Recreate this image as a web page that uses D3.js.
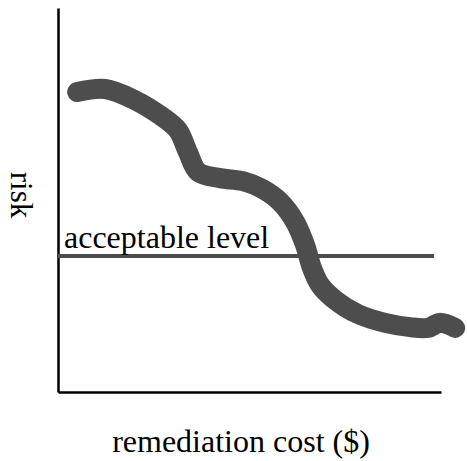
<!DOCTYPE html>
<html>
<head>
<meta charset="utf-8">
<script src="https://cdn.jsdelivr.net/npm/d3@7"></script>
<style>
  html, body { margin: 0; padding: 0; background: #ffffff; }
  svg { display: block; }
</style>
</head>
<body>
<svg id="chart" width="467" height="461"></svg>
<script>
// Data (cost in arbitrary units 0-10, risk in arbitrary units 0-10)
const costValues = [0.50, 1.23, 2.01, 2.66, 3.13, 3.39, 3.66, 4.23, 4.83, 5.33, 5.80, 6.19, 6.45, 6.63, 6.84, 7.23, 7.83, 8.54, 9.19, 9.66, 9.97, 10.37];
const riskValues = [7.81, 7.89, 7.60, 7.21, 6.82, 6.25, 5.73, 5.57, 5.49, 5.29, 4.95, 4.43, 3.83, 3.23, 2.79, 2.40, 2.03, 1.80, 1.69, 1.67, 1.80, 1.67];
const acceptableLevel = [3.54];
const acceptableRange = [0, 9.82];
const labels = ["acceptable level", "remediation cost ($)", "risk"];

const FONT = "'Liberation Serif', 'Times New Roman', Times, 'DejaVu Serif', serif";

const svg = d3.select("#chart");
const margin = { left: 58, right: 26, top: 8, bottom: 69 };
const W = 467, H = 461;

const x = d3.scaleLinear().domain([0, 10]).range([margin.left, W - margin.right]);
const y = d3.scaleLinear().domain([0, 10]).range([H - margin.bottom, margin.top]);

// Axes (plain lines, no ticks)
svg.append("g")
  .attr("transform", `translate(0,${y(0)})`)
  .call(d3.axisBottom(x).ticks(0).tickSizeOuter(0))
  .call(g => g.select(".domain").attr("stroke", "#000").attr("stroke-width", 2.5));
svg.append("g")
  .attr("transform", `translate(${x(0)},0)`)
  .call(d3.axisLeft(y).ticks(0).tickSizeOuter(0))
  .call(g => g.select(".domain").attr("stroke", "#000").attr("stroke-width", 2.5));

// Acceptable level line
svg.append("line")
  .attr("x1", x(acceptableRange[0])).attr("x2", x(acceptableRange[1]))
  .attr("y1", y(acceptableLevel[0])).attr("y2", y(acceptableLevel[0]))
  .attr("stroke", "#4d4d4d").attr("stroke-width", 4);

svg.append("text")
  .attr("x", 64).attr("y", 248)
  .attr("font-family", FONT)
  .attr("font-size", 32)
  .attr("fill", "#000")
  .text(labels[0]);

// Risk curve
const pts = costValues.map((c, i) => [c, riskValues[i]]);
const line = d3.line().x(d => x(d[0])).y(d => y(d[1])).curve(d3.curveCatmullRom.alpha(0.5));
svg.append("path")
  .attr("d", line(pts))
  .attr("fill", "none")
  .attr("stroke", "#4d4d4d")
  .attr("stroke-width", 20)
  .attr("stroke-linecap", "round")
  .attr("stroke-linejoin", "round");

// Axis labels
svg.append("text")
  .attr("x", 241).attr("y", 452)
  .attr("text-anchor", "middle")
  .attr("font-family", FONT)
  .attr("font-size", 32)
  .attr("fill", "#000")
  .text(labels[1]);

svg.append("text")
  .attr("transform", "translate(11,195) rotate(90)")
  .attr("text-anchor", "middle")
  .attr("font-family", FONT)
  .attr("font-size", 31)
  .attr("fill", "#000")
  .text(labels[2]);
</script>
</body>
</html>
